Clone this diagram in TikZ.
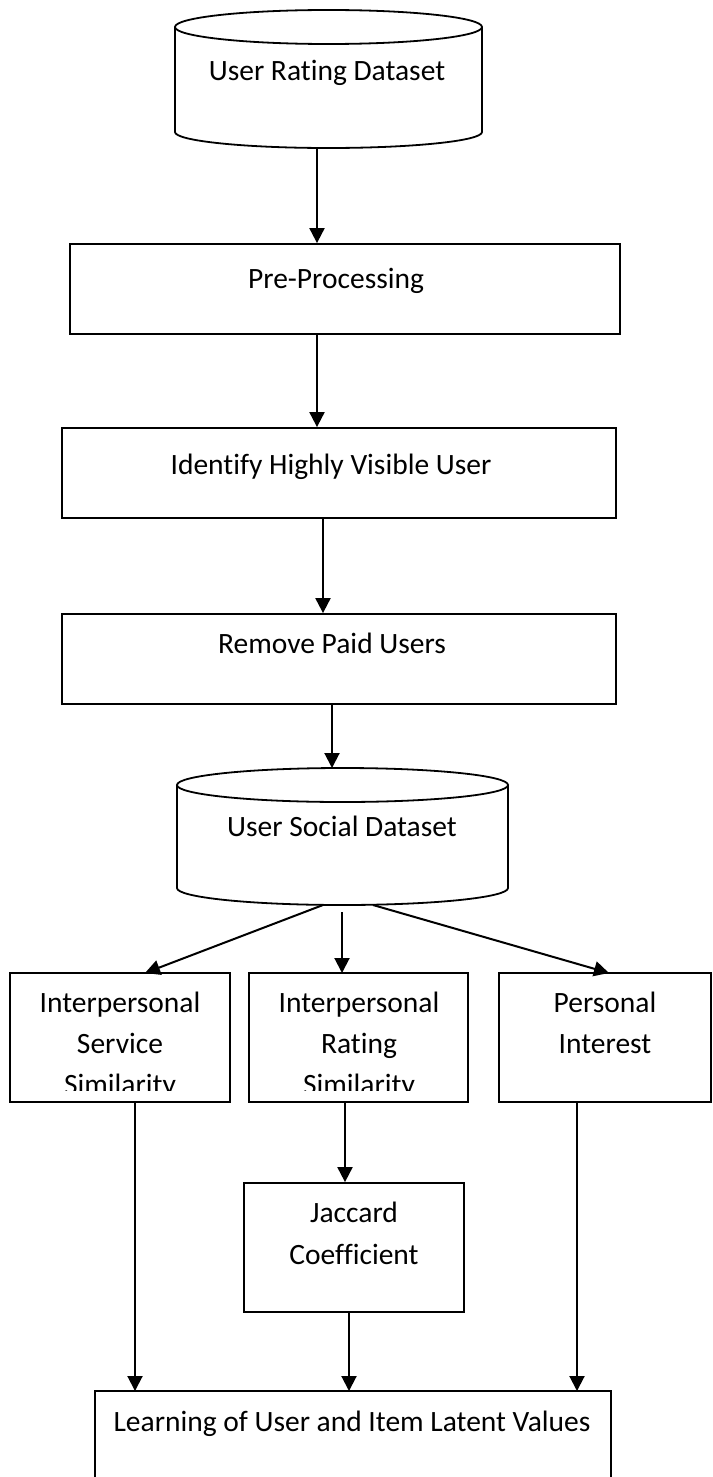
\documentclass[tikz,border=0pt]{standalone}
\usepackage{fontspec}
\setmainfont{Carlito}[Ligatures=NoCommon]
\usetikzlibrary{arrows.meta}
\begin{document}
\begin{tikzpicture}[x=1pt,y=-1pt,
  arr/.style={-{Triangle[length=15pt,width=15pt]}, line width=2pt},
  boxline/.style={draw, line width=1.8pt},
  box/.style={draw, line width=1.8pt, rectangle, inner sep=0pt, fill=white},
  txt/.style={anchor=base, inner sep=0pt, font=\fontsize{29.5}{41}\selectfont}]
\useasboundingbox (0,0) rectangle (712,1477);
\fill[white] (0,0) rectangle (712,1477);

% ---- Cylinder 1: User Rating Dataset
\draw[boxline, fill=white] (175,27) -- (175,132) arc[start angle=180,end angle=360,x radius=153.5pt,y radius=16pt] -- (482,27);
\draw[boxline, fill=white] (328.5,27) ellipse [x radius=153.5pt, y radius=17pt];
\node[txt] (urd) at (327,81) {User Rating Dataset};
\coordinate (urdb) at (317,148);

% ---- Pre-Processing
\node[box, minimum width=550pt, minimum height=90pt] (pp) at (345,289) {};
\node[txt] (ppt) at (336,288) {Pre-Processing};

% ---- Identify Highly Visible User
\node[box, minimum width=554pt, minimum height=90pt] (ihv) at (339,473) {};
\node[txt] (ihvt) at (331,474) {Identify Highly Visible User};

% ---- Remove Paid Users
\node[box, minimum width=554pt, minimum height=90pt] (rpu) at (339,659) {};
\node[txt] (rput) at (332,653) {Remove Paid Users};

% ---- Cylinder 2: User Social Dataset
\draw[boxline, fill=white] (177,785) -- (177,888) arc[start angle=180,end angle=360,x radius=165.5pt,y radius=17pt] -- (508,785);
\draw[boxline, fill=white] (342.5,785) ellipse [x radius=165.5pt, y radius=17pt];
\node[txt] (usd) at (342,836) {User Social Dataset};
\coordinate (usdtop) at (332,768);
\coordinate (usdl) at (323,905);
\coordinate (usdm) at (342,912);
\coordinate (usdr) at (373,905);

% ---- Three boxes
\node[box, minimum width=220pt, minimum height=129pt] (iss) at (120,1037.5) {};
\node[box, minimum width=219pt, minimum height=129pt] (irs) at (358.5,1037.5) {};
\node[box, minimum width=212pt, minimum height=129pt] (pi) at (605,1037.5) {};
\begin{scope}
  \clip (12,975) rectangle (228,1090);
  \node[txt] (isst1) at (120,1012) {Interpersonal};
  \node[txt] (isst2) at (120,1053) {Service};
  \node[txt] (isst3) at (120,1094) {Similarity};
\end{scope}
\begin{scope}
  \clip (251,975) rectangle (466,1090);
  \node[txt] (irst1) at (359,1012) {Interpersonal};
  \node[txt] (irst2) at (359,1053) {Rating};
  \node[txt] (irst3) at (359,1094) {Similarity};
\end{scope}
\node[txt] (pit1) at (605,1012) {Personal};
\node[txt] (pit2) at (605,1053) {Interest};

% ---- Jaccard
\node[box, minimum width=220pt, minimum height=129pt] (jac) at (354,1247.5) {};
\node[txt] (jact1) at (354,1222) {Jaccard};
\node[txt] (jact2) at (354,1264) {Coefficient};

% ---- Bottom box (open at the page edge)
\coordinate (lbl) at (95,1477);
\coordinate (ltl) at (95,1391);
\coordinate (ltr) at (611,1391);
\coordinate (lbr) at (611,1477);
\draw[line width=1.8pt] (lbl) -- (ltl) -- (ltr) -- (lbr);
\node[txt] (learn) at (352,1431) {Learning of User and Item Latent Values};

% ---- Connectors
\draw[arr] (urdb) -- (urdb |- pp.north);
\coordinate (a2) at (317,334);
\draw[arr] (a2) -- (a2 |- ihv.north);
\coordinate (a3) at (323,518);
\draw[arr] (a3) -- (a3 |- rpu.north);
\coordinate (a4) at (332,704);
\draw[arr] (a4) -- (usdtop);
\coordinate (issin) at (145,973);
\coordinate (irsin) at (342,973);
\coordinate (piin) at (609,973);
\draw[arr] (usdl) -- (issin);
\draw[arr] (usdm) -- (irsin);
\draw[arr] (usdr) -- (piin);
\coordinate (issout) at (135,1102);
\draw[arr] (issout) -- (issout |- ltl);
\coordinate (irsout) at (345,1102);
\draw[arr] (irsout) -- (irsout |- jac.north);
\coordinate (jacout) at (349,1312);
\draw[arr] (jacout) -- (jacout |- ltl);
\coordinate (piout) at (577,1102);
\draw[arr] (piout) -- (piout |- ltl);
\end{tikzpicture}
\end{document}
